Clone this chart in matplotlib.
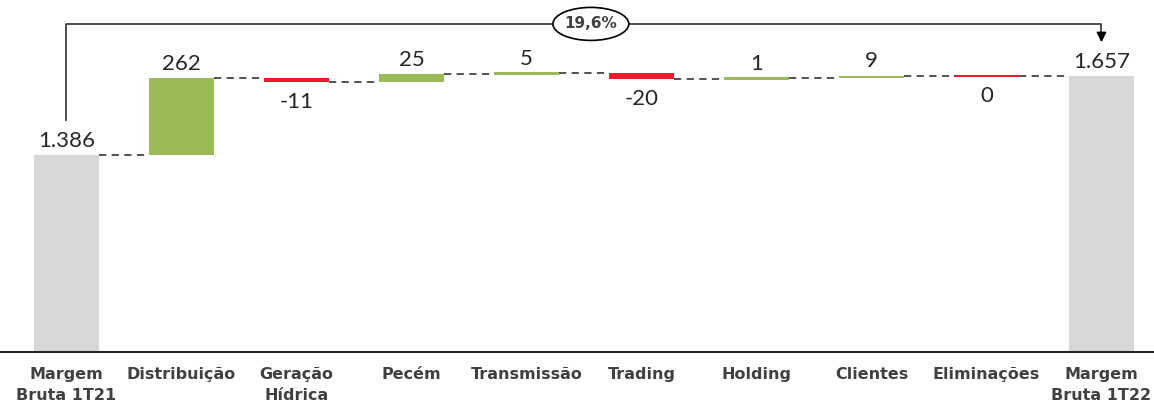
import matplotlib
matplotlib.use("Agg")
import matplotlib.pyplot as plt
from matplotlib.patches import Ellipse

categories = ["Margem\nBruta 1T21", "Distribuição", "Geração\nHídrica", "Pecém",
              "Transmissão", "Trading", "Holding", "Clientes", "Eliminações",
              "Margem\nBruta 1T22"]
start_value = 1386
deltas = [262, -11, 25, 5, -20, 1, 9, 0]
end_value = 1657
value_labels = ["1.386", "262", "-11", "25", "5", "-20", "1", "9", "0", "1.657"]
growth_label = "19,6%"
delta_signs = [1, -1, 1, 1, -1, 1, 1, -1]  # 0 in Eliminações drawn red

GREEN = "#9BBB59"
RED = "#EE1B2E"
GRAY = "#D6D7D9"
DASH = "#444444"
TXT = "#262626"
TICK = "#404040"

plt.rcParams['font.family'] = ['Lato', 'DejaVu Sans']

fig = plt.figure(figsize=(11.54, 4.05), dpi=100)
ax = fig.add_axes([0, 53/405, 1, 352/405])
ymin, ymax = 710, 1917
ax.set_ylim(ymin, ymax)
ax.set_xlim(-0.578, 9.457)
w = 0.565

x = list(range(len(categories)))
ax.bar(0, start_value - ymin, bottom=ymin, width=w, color=GRAY, linewidth=0)
ax.bar(9, end_value - ymin, bottom=ymin, width=w, color=GRAY, linewidth=0)

levels = [start_value]
run = start_value
for i, d in enumerate(deltas):
    xi = i + 1
    color = GREEN if delta_signs[i] > 0 else RED
    lo, hi = min(run, run + d), max(run, run + d)
    h = hi - lo
    minh = 9.0
    if h < minh:
        c = (lo + hi) / 2
        lo, hi = c - minh / 2, c + minh / 2
    ax.bar(xi, hi - lo, bottom=lo, width=w, color=color, linewidth=0)
    run += d
    levels.append(run)

for i in range(len(categories) - 1):
    lvl = levels[i]
    ax.plot([i + w / 2, i + 1 - w / 2], [lvl, lvl], color=DASH, lw=1.3,
            linestyle=(0, (4, 3)))

run = start_value
ax.text(0, start_value + 12, value_labels[0], ha="center", va="bottom", fontsize=16, color=TXT)
for i, d in enumerate(deltas):
    xi = i + 1
    top = max(run, run + d)
    bot = min(run, run + d)
    if delta_signs[i] > 0:
        ax.text(xi, top + 15, value_labels[xi], ha="center", va="bottom", fontsize=16, color=TXT)
    else:
        ax.text(xi, bot - 36, value_labels[xi], ha="center", va="top", fontsize=16, color=TXT)
    run += d
ax.text(9, end_value + 12, value_labels[9], ha="center", va="bottom", fontsize=16, color=TXT)

ybr = 1835
ax.plot([0, 0, 9, 9], [1504, ybr, ybr, 1790], color="#404040", lw=1.3, clip_on=False)
ax.annotate("", xy=(9, 1772), xytext=(9, 1800),
            arrowprops=dict(arrowstyle="-|>", color="black", lw=1.3, mutation_scale=14,
                            shrinkA=0, shrinkB=0))
ell = Ellipse((4.56, ybr), width=0.66, height=33 / 0.2916, facecolor="white",
              edgecolor="black", lw=1.2, zorder=5)
ax.add_patch(ell)
ax.text(4.56, ybr, growth_label, ha="center", va="center", fontsize=11, fontweight="bold",
        color=TICK, zorder=6, family=['DejaVu Sans'])

ax.set_xticks(x)
ax.set_xticklabels(categories, fontsize=11.5, fontweight="bold", color=TICK,
                   linespacing=1.45, family=['DejaVu Sans'])
ax.tick_params(axis="x", length=0, pad=11)
ax.set_yticks([])
for s in ["top", "left", "right"]:
    ax.spines[s].set_visible(False)
ax.spines["bottom"].set_color("#262626")
ax.spines["bottom"].set_linewidth(1.5)

fig.savefig("out.png", dpi=100)
